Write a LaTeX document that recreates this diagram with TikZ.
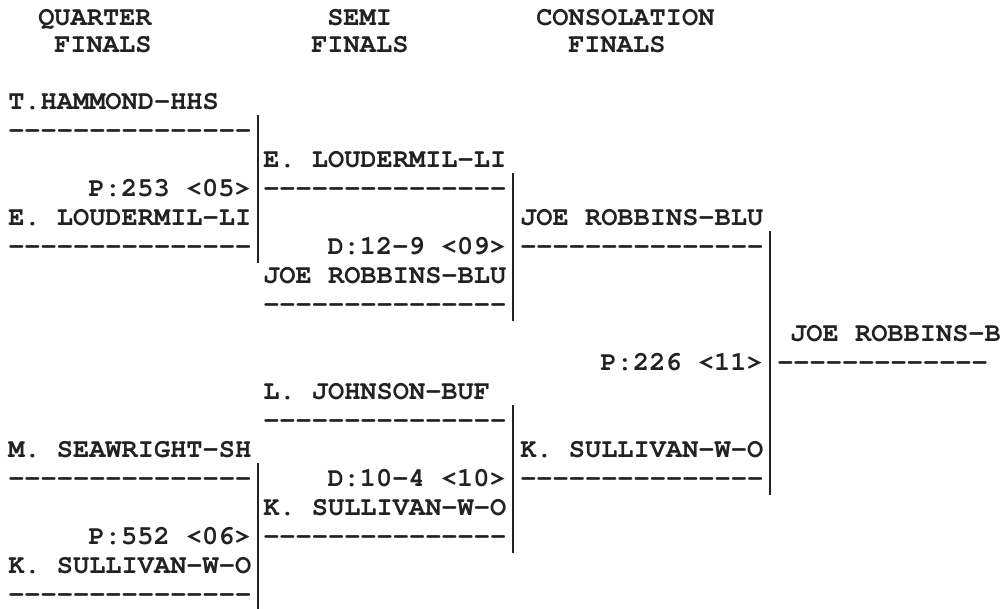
\documentclass[tikz,border=0pt]{standalone}
\usepackage[T1]{fontenc}
\renewcommand{\ttdefault}{pcr}
\usepackage{tikz}
\definecolor{ink}{HTML}{222222}
\newcommand{\dashes}[1]{\foreach \i in {1,...,#1}{-}}
\tikzset{
  brk entry/.style={anchor=west,inner sep=0pt,text height=10pt,text depth=0pt,text=ink,
    font=\ttfamily\bfseries\fontsize{19.2}{22}\selectfont},
  brk score/.style={brk entry,anchor=east},
  brk rule/.style={brk entry},
  brk bar/.style={draw=ink,line width=1.4pt}
}

\begin{document}
\begin{tikzpicture}[x=0.025cm,y=-0.025cm]
  \useasboundingbox (0,0) rectangle (1005,609);
  \node[brk entry] (hq1) at (38,18) {QUARTER};
  \node[brk entry] (hq2) at (54,45) {FINALS};
  \node[brk entry] (hs1) at (327,18) {SEMI};
  \node[brk entry] (hs2) at (311,45) {FINALS};
  \node[brk entry] (hc1) at (536,18) {CONSOLATION};
  \node[brk entry] (hc2) at (568,45) {FINALS};
  \node[brk entry] (qa) at (8,102) {T.HAMMOND-HHS};
  \node[brk entry] (qb) at (8,218) {E. LOUDERMIL-LI};
  \node[brk entry] (qc) at (8,450) {M. SEAWRIGHT-SH};
  \node[brk entry] (qd) at (8,566) {K. SULLIVAN-W-O};
  \node[brk score] (qs1) at (251,189) {P:253 <05>};
  \node[brk score] (qs2) at (251,537) {P:552 <06>};
  \node[brk entry] (sa) at (263,160) {E. LOUDERMIL-LI};
  \node[brk entry] (sb) at (263,276) {JOE ROBBINS-BLU};
  \node[brk entry] (sc) at (263,392) {L. JOHNSON-BUF};
  \node[brk entry] (sd) at (263,508) {K. SULLIVAN-W-O};
  \node[brk score] (ss1) at (506,247) {D:12-9 <09>};
  \node[brk score] (ss2) at (506,479) {D:10-4 <10>};
  \node[brk entry] (ca) at (520,218) {JOE ROBBINS-BLU};
  \node[brk entry] (cb) at (520,450) {K. SULLIVAN-W-O};
  \node[brk score] (cs) at (763,363) {P:226 <11>};
  \node[brk entry] (fa) at (790,334) {JOE ROBBINS-B};
  \foreach \n/\x/\y in {qad/8/131,qbd/8/247,qcd/8/479,qdd/8/595,
                        sad/263/189,sbd/263/305,scd/263/421,sdd/263/537,
                        cad/520/247,cbd/520/479}
    \node[brk rule] (\n) at (\x,\y) {\dashes{15}};
  \node[brk rule] (fad) at (777,363) {\dashes{13}};
  \foreach \a/\b in {qad/qbd,qcd/qdd,sad/sbd,scd/sdd,cad/cbd}
    \draw[brk bar] ([shift={(6,-16)}]\a.east) -- ([shift={(6,16)}]\b.east);
\end{tikzpicture}
\end{document}
